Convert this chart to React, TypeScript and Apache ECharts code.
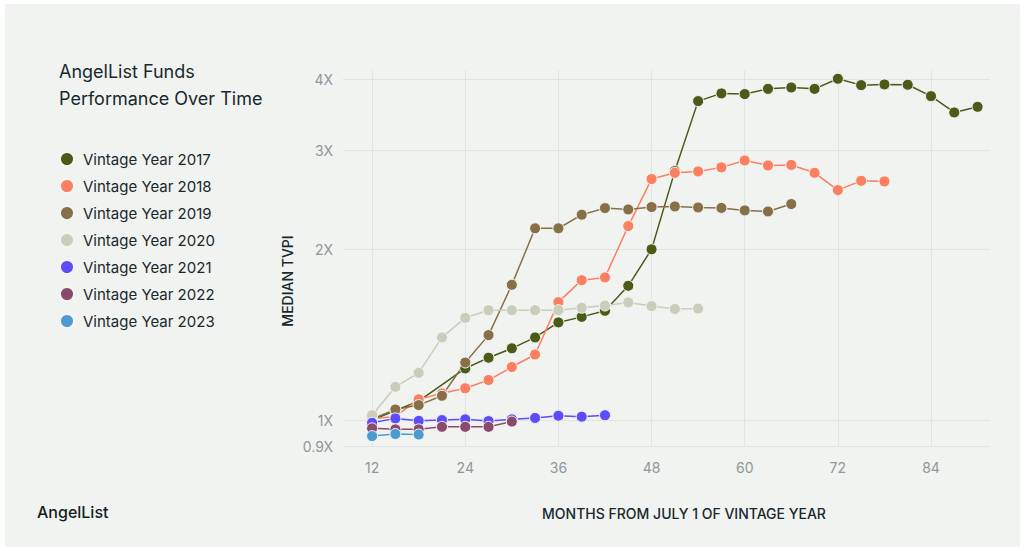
import React, { useEffect, useRef } from 'react';
import * as echarts from 'echarts';

// months from July 1 of vintage year
const months2017 = [12, 15, 18, 24, 27, 30, 33, 36, 39, 42, 45, 48, 51, 54, 57, 60, 63, 66, 69, 72, 75, 78, 81, 84, 87, 90];
const tvpi2017 = [1.0, 1.04, 1.08, 1.234, 1.289, 1.339, 1.4, 1.488, 1.522, 1.56, 1.727, 2.003, 2.754, 3.661, 3.778, 3.767, 3.848, 3.87, 3.848, 4.009, 3.907, 3.918, 3.913, 3.736, 3.496, 3.577];

const months2018 = [12, 15, 18, 21, 24, 27, 30, 33, 36, 39, 42, 45, 48, 51, 54, 57, 60, 63, 66, 69, 72, 75, 78];
const tvpi2018 = [1.005, 1.015, 1.088, 1.115, 1.138, 1.177, 1.241, 1.306, 1.616, 1.767, 1.787, 2.202, 2.666, 2.735, 2.75, 2.796, 2.876, 2.818, 2.824, 2.735, 2.549, 2.647, 2.641];

const months2019 = [12, 15, 18, 21, 24, 27, 30, 33, 36, 39, 42, 45, 48, 51, 54, 57, 60, 63, 66];
const tvpi2019 = [1.005, 1.044, 1.063, 1.104, 1.264, 1.413, 1.734, 2.182, 2.182, 2.306, 2.369, 2.356, 2.379, 2.385, 2.375, 2.371, 2.347, 2.337, 2.408];

const months2020 = [12, 15, 18, 21, 24, 27, 30, 33, 36, 39, 42, 45, 48, 51, 54];
const tvpi2020 = [1.02, 1.145, 1.212, 1.4, 1.516, 1.564, 1.564, 1.564, 1.564, 1.579, 1.594, 1.614, 1.59, 1.571, 1.574];

const months2021 = [12, 15, 18, 21, 24, 27, 30, 33, 36, 39, 42];
const tvpi2021 = [0.989, 1.007, 0.997, 1.0, 1.003, 0.996, 1.003, 1.009, 1.018, 1.014, 1.02];

const months2022 = [12, 15, 18, 21, 24, 27, 30];
const tvpi2022 = [0.967, 0.963, 0.963, 0.973, 0.973, 0.973, 0.994];

const months2023 = [12, 15, 18];
const tvpi2023 = [0.937, 0.945, 0.943];

const seriesNames = [
  'Vintage Year 2017',
  'Vintage Year 2018',
  'Vintage Year 2019',
  'Vintage Year 2020',
  'Vintage Year 2021',
  'Vintage Year 2022',
  'Vintage Year 2023',
];
const seriesColors = ['#4a5a17', '#fd7f61', '#877048', '#c9cdb9', '#5c4dfb', '#8a4a6b', '#4b9bd1'];
const seriesMonths = [months2017, months2018, months2019, months2020, months2021, months2022, months2023];
const seriesTvpi = [tvpi2017, tvpi2018, tvpi2019, tvpi2020, tvpi2021, tvpi2022, tvpi2023];

const xTicks = [12, 24, 36, 48, 60, 72, 84];
const yTicks = [0.9, 1, 2, 3, 4];

const FONT = 'Inter, "Noto Sans", sans-serif';
const DARK = '#17292c';

const App: React.FC = () => {
  const chartRef = useRef<HTMLDivElement>(null);

  useEffect(() => {
    if (!chartRef.current) return;
    const chart = echarts.init(chartRef.current, undefined, { renderer: 'svg' });

    const series = seriesNames.map((name, i) => ({
      name,
      type: 'line' as const,
      data: seriesMonths[i].map((m, j) => [m, Math.log10(seriesTvpi[i][j])]),
      symbol: 'circle',
      symbolSize: 11,
      showSymbol: true,
      lineStyle: { color: seriesColors[i], width: 1.5 },
      itemStyle: { color: seriesColors[i], borderColor: '#f4f5f3', borderWidth: 1 },
      emphasis: { disabled: true },
    }));

    chart.setOption({
      animation: false,
      textStyle: { fontFamily: FONT },
      title: {
        text: 'AngelList Funds\nPerformance Over Time',
        left: 59,
        top: 58,
        padding: 0,
        textStyle: { fontFamily: FONT, fontSize: 18, lineHeight: 27, fontWeight: 'normal', color: DARK },
      },
      legend: {
        orient: 'vertical',
        left: 59,
        top: 151,
        padding: 0,
        itemWidth: 14,
        itemHeight: 14,
        itemGap: 11,
        icon: 'circle',
        selectedMode: false,
        data: seriesNames,
        textStyle: { fontFamily: FONT, fontSize: 15, color: DARK, padding: [0, 0, 0, 4] },
      },
      grid: { left: 343, right: 34, top: 70, bottom: 105 },
      xAxis: {
        type: 'value',
        min: 8.25,
        max: 91.6,
        axisLine: { show: false },
        axisTick: { show: false, customValues: xTicks },
        axisLabel: {
          customValues: xTicks,
          margin: 14,
          fontFamily: FONT,
          fontSize: 14,
          color: '#8f9798',
        },
        splitLine: { show: true, lineStyle: { color: '#e0e4e4', width: 1 } },
      },
      yAxis: {
        type: 'value',
        min: Math.log10(0.9),
        max: Math.log10(4.155),
        axisLine: { show: false },
        axisTick: { show: false, customValues: yTicks.map((v) => Math.log10(v)) },
        axisLabel: {
          customValues: yTicks.map((v) => Math.log10(v)),
          margin: 10,
          fontFamily: FONT,
          fontSize: 14,
          color: '#8f9798',
          formatter: (v: number) => `${Math.round(Math.pow(10, v) * 10) / 10}X`,
        },
        splitLine: { show: true, lineStyle: { color: '#e0e4e4', width: 1 } },
      },
      graphic: [
        {
          type: 'text',
          x: 287,
          y: 281,
          rotation: Math.PI / 2,
          style: {
            text: 'MEDIAN TVPI',
            fontFamily: FONT,
            fontSize: 14,
            fontWeight: 500,
            fill: DARK,
            align: 'center',
            verticalAlign: 'middle',
          },
        },
        {
          type: 'text',
          x: 684,
          y: 513,
          style: {
            text: 'MONTHS FROM JULY 1 OF VINTAGE YEAR',
            fontFamily: FONT,
            fontSize: 14,
            fontWeight: 500,
            fill: DARK,
            align: 'center',
            verticalAlign: 'middle',
          },
        },
        {
          type: 'text',
          x: 37,
          y: 512,
          style: {
            text: 'AngelList',
            fontFamily: FONT,
            fontSize: 16,
            fontWeight: 500,
            fill: '#111f22',
            align: 'left',
            verticalAlign: 'middle',
          },
        },
      ],
      series,
    });

    return () => {
      chart.dispose();
    };
  }, []);

  return (
    <div style={{ position: 'absolute', left: 0, top: 0, width: 1024, height: 551, background: '#ffffff' }}>
      <div style={{ position: 'absolute', left: 5, top: 4, width: 1015, height: 543, background: '#f1f3f0' }} />
      <div ref={chartRef} style={{ position: 'absolute', left: 0, top: 0, width: 1024, height: 551 }} />
    </div>
  );
};

export default App;
